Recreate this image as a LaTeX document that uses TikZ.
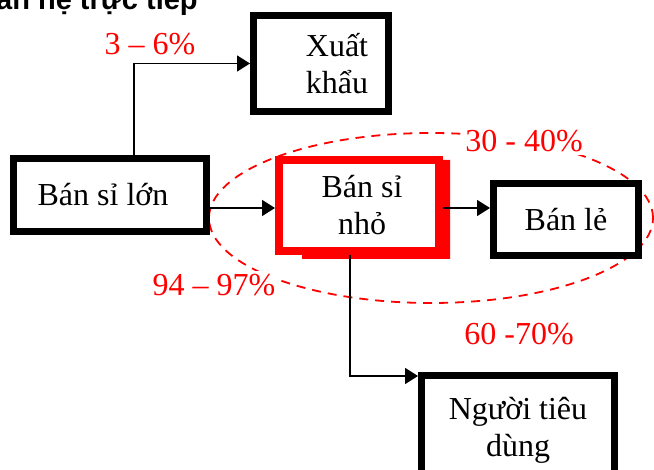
\documentclass[tikz,border=0pt]{standalone}
\usepackage{fontspec}
\setmainfont{Liberation Serif}
\newfontfamily\headfont{Liberation Sans}
\usetikzlibrary{arrows.meta}
\begin{document}
\begin{tikzpicture}[x=1pt,y=-1pt,
  boxtext/.style={font=\fontsize{32}{37}\selectfont, align=center, inner sep=0pt},
  blackbox/.style={boxtext, draw=black, line width=7pt, fill=white},
  redbox/.style={boxtext, draw=red, line width=8pt, fill=white},
  pct/.style={text=red, fill=white, inner sep=3pt, font=\fontsize{32}{37}\selectfont},
  arr/.style={draw=black, line width=1.6pt, -{Triangle[length=13pt,width=16pt]}},
  zone/.style={draw=red, line width=1.8pt, dash pattern=on 9pt off 7pt}]
\useasboundingbox (0,0) rectangle (654,470);

% heading, clipped at the top of the page
\node[anchor=base west, inner sep=0pt, font=\headfont\bfseries\fontsize{29}{32}\selectfont] (head) at (-4,10) {an hệ trực tiếp};

% dashed zone round the small wholesale and retail steps
\draw[zone] (431,218) ellipse [x radius=222pt, y radius=85pt];

% boxes
\node[blackbox, minimum width=193pt, minimum height=73pt] (lon) at (110,195) {\hbox{Bán sỉ lớn\kern14pt}};
\node[blackbox, minimum width=135pt, minimum height=96pt] (xk) at (321,63.5) {\hbox{\kern32pt Xuất}\\\hbox{\kern32pt khẩu}};
\fill[red] (443,160) -- (450,160) -- (450,259) -- (302,259) -- (302,255) -- (443,255) -- cycle;
\node[redbox, minimum width=160pt, minimum height=91pt] (nho) at (359,205.5) {\hbox{\kern6pt Bán sỉ}\\\hbox{\kern6pt nhỏ}};
\node[blackbox, minimum width=145pt, minimum height=72pt] (le) at (566,219.5) {Bán lẻ};
\node[blackbox, minimum width=193pt, minimum height=109pt] (ntd) at (518,430) {Người tiêu\\dùng};

% connectors
\draw[arr] ([xshift=24pt]lon.north) |- (xk.west);
\draw[arr] ([yshift=-2.5pt]nho.west -| lon.east) -- ([yshift=-2.5pt]nho.west);
\draw[arr] ([yshift=-2.5pt]nho.east) -- ([yshift=-2.5pt]nho.east -| le.west);
\draw[arr] ([xshift=-9pt]nho.south) |- ([yshift=-4pt]ntd.north west);

% shares
\node[pct] (p1) at (150,44) {3 – 6\%};
\node[pct] (p2) at (524,141) {30 - 40\%};
\node[pct] (p3) at (214,285) {94 – 97\%};
\node[pct] (p4) at (519,334) {60 -70\%};
\end{tikzpicture}
\end{document}
